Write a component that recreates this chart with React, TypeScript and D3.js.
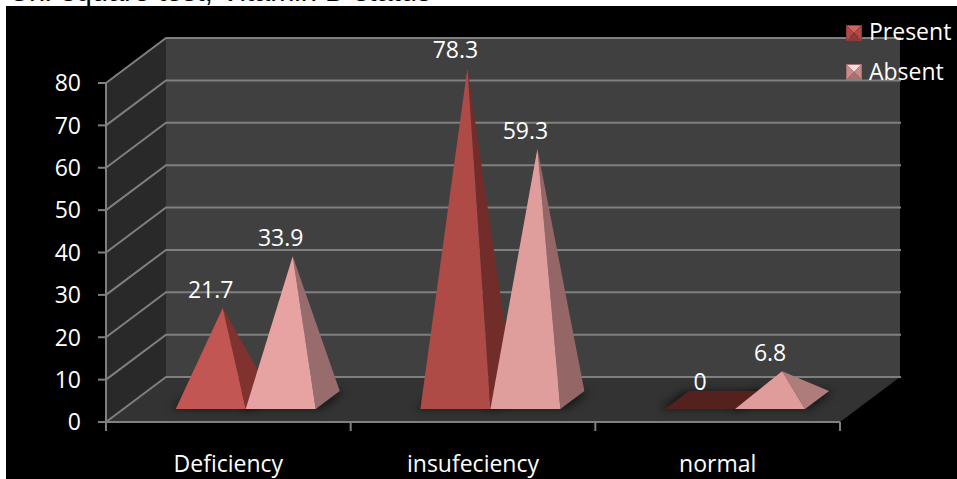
import React from "react";
import * as d3 from "d3";

// Survey results by vitamin D status, in percent.
const categories = ["Deficiency", "insufeciency", "normal"];
const presentValues = [21.7, 78.3, 0];
const absentValues = [33.9, 59.3, 6.8];
const seriesNames = ["Present", "Absent"];
const valueTicks = [0, 10, 20, 30, 40, 50, 60, 70, 80];
const captionText = "Chi-square test, Vitamin D status";

// Face shades differ a little per category because of the 3D lighting.
const presentFront = ["#c25653", "#ae4b47", "#54211f"];
const presentSide = ["#80322f", "#722d2b", "#54211f"];
const absentFront = ["#e7a3a2", "#df9d9c", "#e09c9b"];
const absentSide = ["#986c6c", "#946666", "#ae7c7a"];

const WIDTH = 957;
const HEIGHT = 479;
const FONT = "'Open Sans', sans-serif";
const GRID = "#7f7f7f";
const TEXT_SIZE = 23;

// Chart box: front plane of the floor plus the oblique depth vector.
const xBand = d3.scaleBand<string>().domain(categories).range([106, 840]).paddingInner(0).paddingOuter(0);
const yFront = d3.scaleLinear().domain([0, 80]).range([422, 83]);
const DEPTH_X = 60;
const DEPTH_Y = -45;

// Pyramid footprint inside a category, as fractions of the box depth.
const BAR_WIDTH = 70;
const DEPTH_NEAR = 0.29;
const DEPTH_FAR = 0.69;

type Pt = [number, number];
const project = (x: number, value: number, depth: number): Pt => [
  x + DEPTH_X * depth,
  yFront(value) + DEPTH_Y * depth,
];
const poly = d3.line<Pt>().curve(d3.curveLinearClosed);

function Pyramid({ left, value, front, side }: { left: number; value: number; front: string; side: string }) {
  const right = left + BAR_WIDTH;
  const fl = project(left, 0, DEPTH_NEAR);
  const fr = project(right, 0, DEPTH_NEAR);
  const br = project(right, 0, DEPTH_FAR);
  const bl = project(left, 0, DEPTH_FAR);
  const apex = project(left + BAR_WIDTH / 2, value, (DEPTH_NEAR + DEPTH_FAR) / 2);
  if (value === 0) {
    return <path d={poly([fl, fr, br, bl]) ?? ""} fill={front} />;
  }
  return (
    <g>
      <path d={poly([apex, fr, br]) ?? ""} fill={side} />
      <path d={poly([apex, fl, fr]) ?? ""} fill={front} />
    </g>
  );
}

function LegendSwatch({ x, y, shades }: { x: number; y: number; shades: string[] }) {
  const s = 16;
  const c: Pt = [x + s / 2, y + s / 2];
  const a: Pt = [x, y];
  const b: Pt = [x + s, y];
  const d: Pt = [x + s, y + s];
  const e: Pt = [x, y + s];
  return (
    <g>
      <path d={poly([a, b, c]) ?? ""} fill={shades[0]} />
      <path d={poly([b, d, c]) ?? ""} fill={shades[1]} />
      <path d={poly([d, e, c]) ?? ""} fill={shades[2]} />
      <path d={poly([e, a, c]) ?? ""} fill={shades[1]} />
      <rect x={x + 0.5} y={y + 0.5} width={s - 1} height={s - 1} fill="none" stroke={shades[2]} strokeWidth={1} />
    </g>
  );
}

export default function App() {
  const band = xBand.bandwidth();
  const boundaries = [...categories.map((c) => xBand(c) as number), xBand.range()[1]];
  const [x0, x1] = xBand.range();
  const wallTop = project(x0, 80, 1);
  const wallBottom = project(x0, 0, 1);
  const floorFR = project(x1, 0, 0);
  const floorBR = project(x1, 0, 1);
  const floorBL = wallBottom;
  const floorFL = project(x0, 0, 0);
  const groupLeft = (i: number) => (xBand(categories[i]) as number) + band / 2 - BAR_WIDTH;

  const marks = categories.flatMap((_, i) => [
    { i, s: 0, value: presentValues[i], left: groupLeft(i), front: presentFront[i], side: presentSide[i] },
    { i, s: 1, value: absentValues[i], left: groupLeft(i) + BAR_WIDTH, front: absentFront[i], side: absentSide[i] },
  ]);

  return (
    <svg
      width={WIDTH}
      height={HEIGHT}
      style={{ position: "fixed", left: 0, top: 0, display: "block", background: "#fff" }}
    >
      <defs>
        <clipPath id="captionClip">
          <rect x={0} y={0} width={WIDTH} height={6} />
        </clipPath>
        <filter id="floorShadow" x="-30%" y="-100%" width="160%" height="300%">
          <feGaussianBlur stdDeviation={4} />
        </filter>
      </defs>

      <g clipPath="url(#captionClip)">
        <text x={8} y={0.5} fontFamily="'Liberation Sans', sans-serif" fontSize={29} fill="#000">
          {captionText}
        </text>
      </g>
      <rect x={6} y={6} width={WIDTH - 6} height={HEIGHT - 6} fill="#000" />

      {/* Walls and floor */}
      <path d={poly([wallTop, [x1 + DEPTH_X, wallTop[1]], floorBR, floorBL]) ?? ""} fill="#404040" />
      <path d={poly([[x0, yFront(80)], wallTop, wallBottom, floorFL]) ?? ""} fill="#292929" />
      <path d={poly([floorFL, floorFR, floorBR, floorBL]) ?? ""} fill="#333333" />

      {/* Gridlines run along the side wall and across the back wall */}
      {valueTicks.map((t) => {
        const front = project(x0, t, 0);
        const back = project(x0, t, 1);
        return (
          <path
            key={t}
            d={`M${front[0]},${front[1]}L${back[0]},${back[1]}L${x1 + DEPTH_X + 1},${back[1]}`}
            fill="none"
            stroke={GRID}
            strokeWidth={2}
          />
        );
      })}

      {/* Axes */}
      <line x1={x0} x2={x1} y1={yFront(0)} y2={yFront(0)} stroke={GRID} strokeWidth={2} />
      <line x1={x0} x2={x0} y1={yFront(80)} y2={431} stroke={GRID} strokeWidth={2} />
      {valueTicks.map((t) => (
        <g key={t}>
          <line x1={98} x2={x0} y1={yFront(t)} y2={yFront(t)} stroke={GRID} strokeWidth={2} />
          <text x={81} y={yFront(t)} dy="0.36em" textAnchor="end" fontFamily={FONT} fontSize={TEXT_SIZE} fill="#fff">
            {t}
          </text>
        </g>
      ))}
      {boundaries.map((b) => (
        <line key={b} x1={b} x2={b} y1={yFront(0)} y2={431} stroke={GRID} strokeWidth={2} />
      ))}
      {categories.map((c) => (
        <text
          key={c}
          x={(xBand(c) as number) + band / 2}
          y={472}
          textAnchor="middle"
          fontFamily={FONT}
          fontSize={TEXT_SIZE}
          fill="#fff"
        >
          {c}
        </text>
      ))}

      {/* Soft shadows on the floor */}
      {marks.map((m) => (
        <path
          key={`shadow-${m.i}-${m.s}`}
          d={
            poly([
              project(m.left - 6, 0, DEPTH_NEAR),
              project(m.left + BAR_WIDTH + 6, 0, DEPTH_NEAR),
              project(m.left + BAR_WIDTH + 6, 0, DEPTH_FAR),
              project(m.left - 6, 0, DEPTH_FAR),
            ]) ?? ""
          }
          fill="#000"
          opacity={0.55}
          filter="url(#floorShadow)"
        />
      ))}

      {/* Pyramids, nearer-right series painted last */}
      {marks.map((m) => (
        <Pyramid key={`${m.i}-${m.s}`} left={m.left} value={m.value} front={m.front} side={m.side} />
      ))}

      {/* Value labels sit just above and left of each apex */}
      {marks.map((m) => {
        const apex = project(m.left + BAR_WIDTH / 2, m.value, (DEPTH_NEAR + DEPTH_FAR) / 2);
        return (
          <text
            key={`label-${m.i}-${m.s}`}
            x={apex[0] - 12}
            y={apex[1] - 10}
            textAnchor="middle"
            fontFamily={FONT}
            fontSize={TEXT_SIZE}
            fill="#fff"
          >
            {m.value}
          </text>
        );
      })}

      {/* Legend */}
      <LegendSwatch x={846} y={25} shades={["#d4625f", "#b04a47", "#8f3a38"]} />
      <LegendSwatch x={846} y={64} shades={["#f6dede", "#c98a88", "#a87070"]} />
      {seriesNames.map((name, i) => (
        <text key={name} x={869} y={40 + i * 40} fontFamily={FONT} fontSize={TEXT_SIZE} fill="#fff">
          {name}
        </text>
      ))}
    </svg>
  );
}
